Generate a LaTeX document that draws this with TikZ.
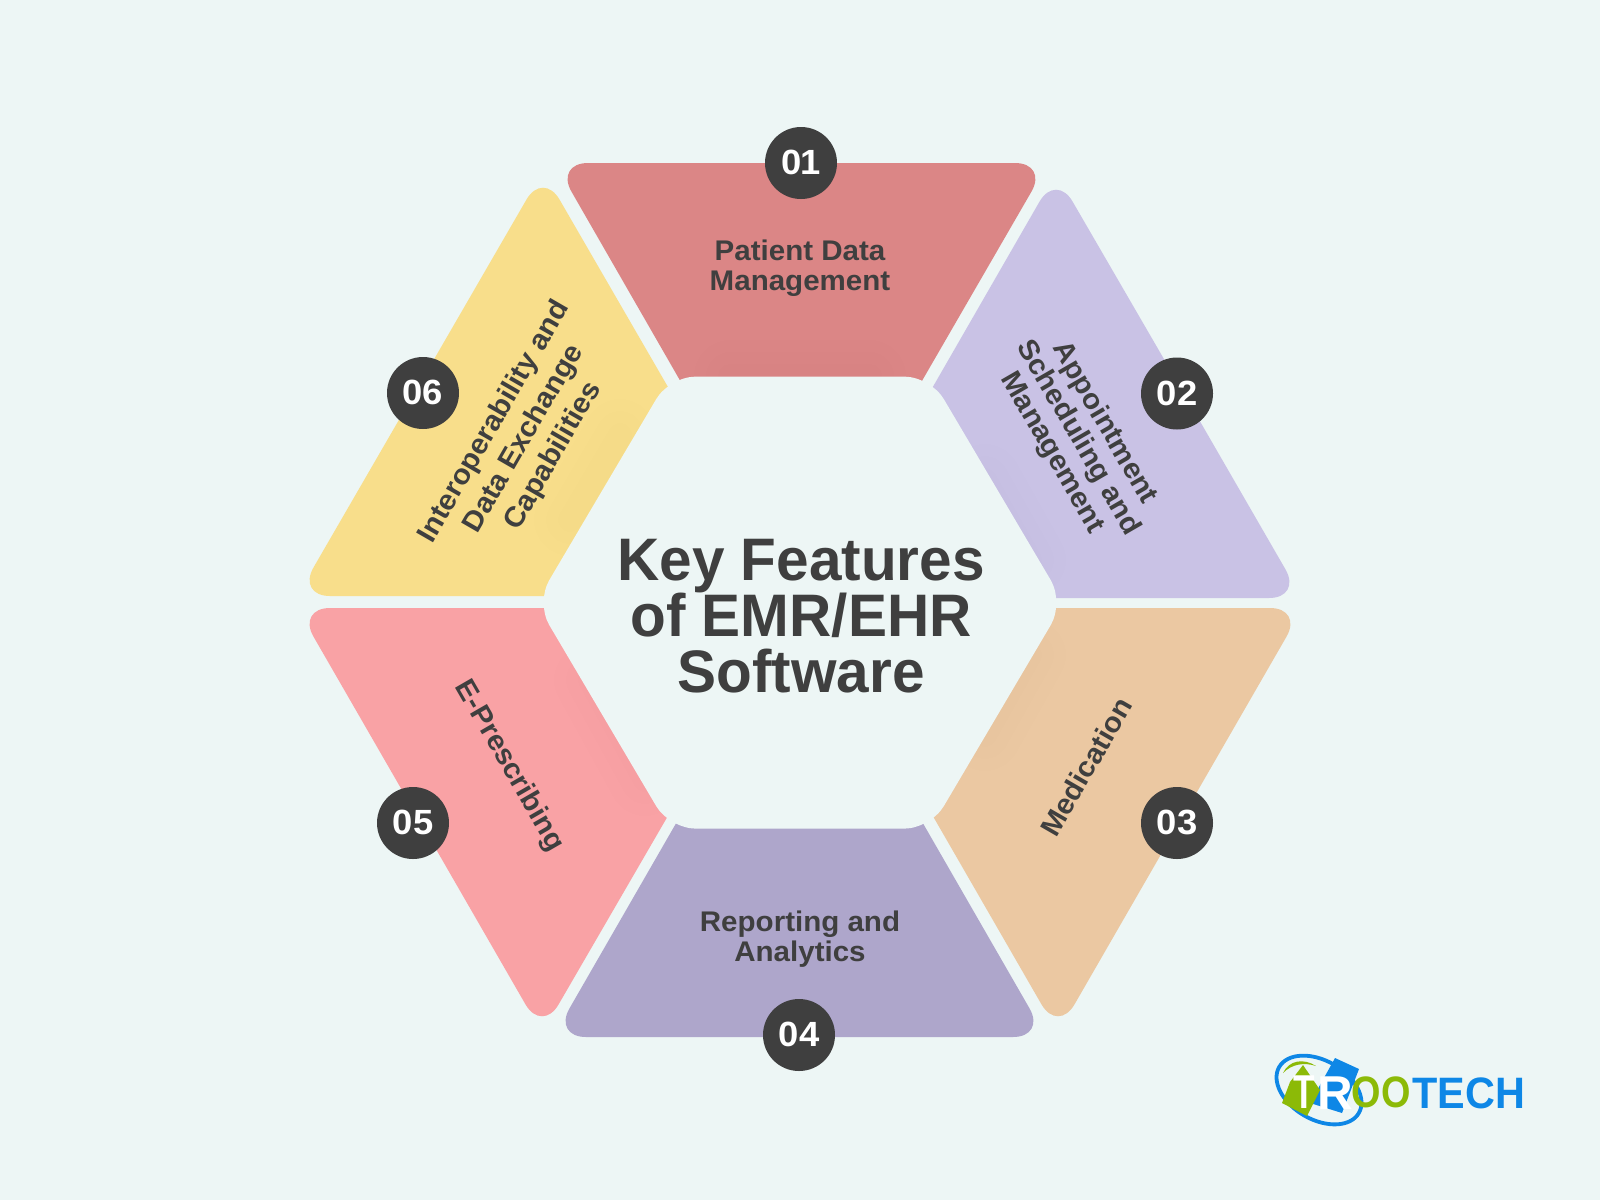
\documentclass[tikz,border=0pt]{standalone}
\usepackage{fontspec}
\setmainfont{Liberation Sans}[FakeStretch=1.04]
\newfontfamily\plainbold{Liberation Sans Bold}
\definecolor{bgc}{HTML}{EDF6F5}
\definecolor{ink}{HTML}{3F3F3F}
\definecolor{segA}{HTML}{DB8686}
\definecolor{segB}{HTML}{C9C2E5}
\definecolor{segC}{HTML}{EBC8A2}
\definecolor{segD}{HTML}{AEA6CB}
\definecolor{segE}{HTML}{F9A2A5}
\definecolor{segF}{HTML}{F8DE8B}
\definecolor{logoblue}{HTML}{0E87E6}
\definecolor{logogreen}{HTML}{8CBA07}
\tikzset{
  numdot/.style={circle,fill=ink,text=white,minimum size=36pt,inner sep=0pt,font=\fontsize{17.5}{18}\selectfont\bfseries},
  seglabel/.style={text=ink,align=center,inner sep=0pt,font=\fontsize{14.2}{15}\selectfont\bfseries},
  widelabel/.style={seglabel,font=\fontsize{14.2}{17}\selectfont\bfseries},
  titletext/.style={text=ink,align=center,inner sep=0pt,font=\plainbold\fontsize{30}{28}\selectfont},
  logotext/.style={inner sep=0pt,font=\plainbold\fontsize{22}{22}\selectfont}
}
% #1 colour, #2 outline, #3 soft inner shade line, #4 strength
\newcommand\segpiece[4]{%
  \fill[#1,rounded corners=16.5pt] #2;
  \begin{scope}
    \clip[rounded corners=16.5pt] #2;
    \foreach \w in {12,24,36}{\draw[black,opacity=#4,line width=\w pt,line cap=round] #3;}
  \end{scope}}
\newcommand\numtxt[1]{\raisebox{.5pt}{#1}}
\begin{document}
\begin{tikzpicture}[x=0.5pt,y=-0.5pt]
\useasboundingbox (0,0) rectangle (1600,1200);
\fill[bgc] (0,0) rectangle (1600,1200);
% segments
\segpiece{segA}{(800,163) -- (1048,163) -- (882,450) -- (720,450) -- (555,163) -- cycle}{(730,376) -- (870,376)}{.004}
\segpiece{segB}{(1179,385) -- (1302,598) -- (885,598) -- (885,470) -- (1056,173) -- cycle}{(985,480) -- (1030,560)}{.004}
\segpiece{segC}{(1100,608) -- (1303,608) -- (1058,1033) -- (885,733) -- (885,608) -- cycle}{(1030,655) -- (985,735)}{.004}
\segpiece{segD}{(800,1037) -- (553,1037) -- (724,740) -- (875,740) -- (1046,1037) -- cycle}{(730,830) -- (870,830)}{0}
\segpiece{segE}{(500,608) -- (297,608) -- (542,1033) -- (716,733) -- (716,608) -- cycle}{(590,680) -- (645,780)}{.004}
\segpiece{segF}{(500,596) -- (297,596) -- (543,171) -- (716,470) -- (716,596) -- cycle}{(570,520) -- (620,435)}{.004}
% centre hexagon
\fill[bgc,rounded corners=13pt] (800,376.6) -- (930.5,376.6) -- (1064,602.6) -- (930.5,828.6) -- (669.5,828.6) -- (536,602.6) -- (669.5,376.6) -- cycle;
\node[titletext,xscale=.975] (title) at (801,616) {Key Features\\of EMR/EHR\\Software};
% labels
\node[seglabel] (lab1) at (800,268) {Patient Data\\Management};
\node[seglabel,rotate=-60] (lab2) at (1078,438) {Appointment\\Scheduling and\\Management};
\node[seglabel,rotate=60] (lab3) at (1086,767) {Medication};
\node[seglabel] (lab4) at (800,939) {Reporting and\\Analytics};
\node[seglabel,rotate=-60] (lab5) at (509,766) {E-Prescribing};
\node[widelabel,rotate=60] (lab6) at (524,439) {Interoperability and\\Data Exchange\\Capabilities};
% numbers
\node[numdot] (n1) at (801,163) {\raisebox{1pt}{0\kern-.4pt 1}};
\node[numdot] (n2) at (1177,393.5) {\numtxt{02}};
\node[numdot] (n3) at (1177,823) {\numtxt{03}};
\node[numdot] (n4) at (799,1035) {\numtxt{04}};
\node[numdot] (n5) at (413,823) {\numtxt{05}};
\node[numdot] (n6) at (423,393) {\numtxt{06}};
% logo
\draw[logoblue,line width=1.9pt,rotate around={-30:(1319,1090)}] (1319,1090) ellipse [x radius=46,y radius=29.5];
\fill[logoblue] (1335,1058) -- (1359,1069) -- (1342,1113) -- (1310,1103) -- cycle;
\fill[logogreen] (1282,1103) -- (1307,1116) -- (1320,1090) -- (1303,1065) -- (1290,1082) -- cycle;
\fill[logogreen] (1283,1073) .. controls (1289,1060) and (1304,1058) .. (1316,1066) .. controls (1304,1062) and (1292,1064) .. (1283,1073) -- cycle;
\node[logotext,text=white,xscale=.8,yscale=1.08] (logoT) at (1304,1092) {T};
\node[logotext,text=white,xscale=1.12,yscale=1.08] (logoR) at (1335,1093) {R};
\node[logotext,text=logogreen,xscale=.86] (logoO) at (1381,1092) {OO};
\node[logotext,text=logoblue,xscale=.94] (logoC) at (1469,1093) {TECH};
\end{tikzpicture}
\end{document}
